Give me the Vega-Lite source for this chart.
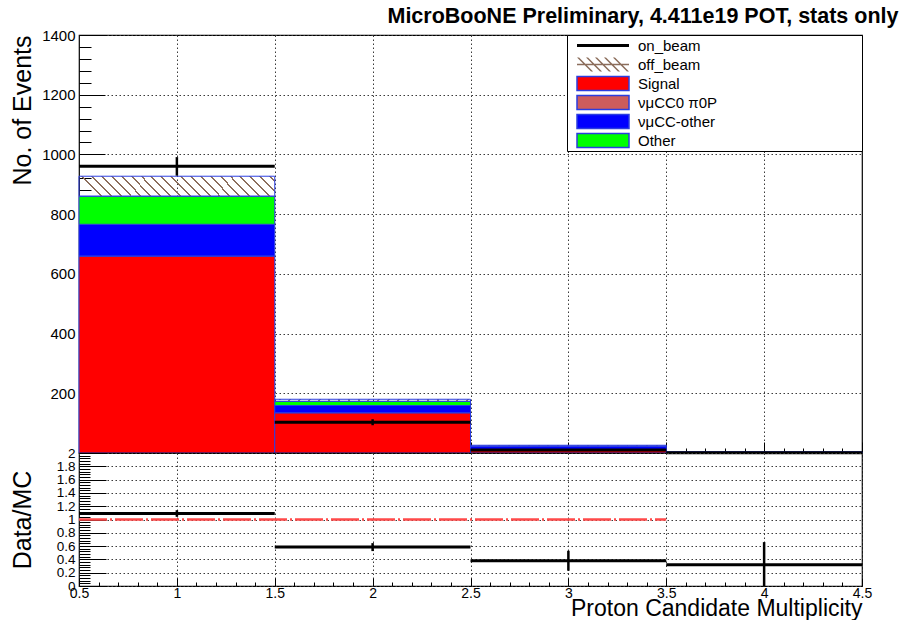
{
  "$schema": "https://vega.github.io/schema/vega-lite/v6.json",
  "background": "white",
  "padding": {"left": 9, "top": 4, "right": 0, "bottom": 0},
  "datasets": {
    "mc": [
      {"bin": 1, "lo": 0.5, "hi": 1.5, "comp": "Signal", "order": 1, "events": 660},
      {"bin": 1, "lo": 0.5, "hi": 1.5, "comp": "νμCC0 π0P", "order": 2, "events": 0},
      {"bin": 1, "lo": 0.5, "hi": 1.5, "comp": "νμCC-other", "order": 3, "events": 106},
      {"bin": 1, "lo": 0.5, "hi": 1.5, "comp": "Other", "order": 4, "events": 94},
      {"bin": 1, "lo": 0.5, "hi": 1.5, "comp": "off_beam", "order": 5, "events": 67},
      {"bin": 2, "lo": 1.5, "hi": 2.5, "comp": "Signal", "order": 1, "events": 135},
      {"bin": 2, "lo": 1.5, "hi": 2.5, "comp": "νμCC0 π0P", "order": 2, "events": 0},
      {"bin": 2, "lo": 1.5, "hi": 2.5, "comp": "νμCC-other", "order": 3, "events": 24},
      {"bin": 2, "lo": 1.5, "hi": 2.5, "comp": "Other", "order": 4, "events": 14},
      {"bin": 2, "lo": 1.5, "hi": 2.5, "comp": "off_beam", "order": 5, "events": 7},
      {"bin": 3, "lo": 2.5, "hi": 3.5, "comp": "Signal", "order": 1, "events": 11},
      {"bin": 3, "lo": 2.5, "hi": 3.5, "comp": "νμCC0 π0P", "order": 2, "events": 0},
      {"bin": 3, "lo": 2.5, "hi": 3.5, "comp": "νμCC-other", "order": 3, "events": 11},
      {"bin": 3, "lo": 2.5, "hi": 3.5, "comp": "Other", "order": 4, "events": 1},
      {"bin": 3, "lo": 2.5, "hi": 3.5, "comp": "off_beam", "order": 5, "events": 3},
      {"bin": 4, "lo": 3.5, "hi": 4.5, "comp": "Signal", "order": 1, "events": 1.5},
      {"bin": 4, "lo": 3.5, "hi": 4.5, "comp": "νμCC0 π0P", "order": 2, "events": 0},
      {"bin": 4, "lo": 3.5, "hi": 4.5, "comp": "νμCC-other", "order": 3, "events": 1},
      {"bin": 4, "lo": 3.5, "hi": 4.5, "comp": "Other", "order": 4, "events": 0.5},
      {"bin": 4, "lo": 3.5, "hi": 4.5, "comp": "off_beam", "order": 5, "events": 0}
    ],
    "onbeam": [
      {"bin": 1, "lo": 0.5, "hi": 1.5, "comp": "on_beam", "events": 960, "err": 31},
      {"bin": 2, "lo": 1.5, "hi": 2.5, "comp": "on_beam", "events": 103, "err": 10},
      {"bin": 3, "lo": 2.5, "hi": 3.5, "comp": "on_beam", "events": 10, "err": 3.2},
      {"bin": 4, "lo": 3.5, "hi": 4.5, "comp": "on_beam", "events": 1, "err": 1}
    ],
    "ratio": [
      {"bin": 1, "lo": 0.5, "hi": 1.5, "ratio": 1.09, "err": 0.05},
      {"bin": 2, "lo": 1.5, "hi": 2.5, "ratio": 0.585, "err": 0.06},
      {"bin": 3, "lo": 2.5, "hi": 3.5, "ratio": 0.38, "err": 0.15},
      {"bin": 4, "lo": 3.5, "hi": 4.5, "ratio": 0.32, "err": 0.34}
    ]
  },
  "vconcat": [
    {
      "width": 783,
      "height": 418,
      "title": {
        "text": "MicroBooNE Preliminary, 4.411e19 POT, stats only",
        "anchor": "end",
        "font": "Liberation Sans",
        "fontSize": 21.5,
        "fontWeight": "bold",
        "color": "black",
        "dx": 35,
        "offset": 1
      },
      "layer": [
        {
          "data": {"name": "mc"},
          "transform": [
            {"stack": "events", "groupby": ["bin"], "sort": [{"field": "order", "order": "ascending"}], "as": ["y0", "y1"]}
          ],
          "mark": {"type": "rect", "stroke": "#2b3de0", "strokeWidth": 1},
          "encoding": {
            "x": {
              "field": "lo", "type": "quantitative",
              "scale": {"domain": [0.5, 4.5], "nice": false, "zero": false},
              "axis": {"orient": "bottom", "values": [1, 1.5, 2, 2.5, 3, 3.5, 4], "labels": false, "ticks": false, "domain": false, "grid": true, "title": null}
            },
            "x2": {"field": "hi"},
            "y": {
              "field": "y1", "type": "quantitative",
              "scale": {"domain": [0, 1400], "nice": false, "zero": true},
              "axis": {
                "orient": "left",
                "values": [0, 200, 400, 600, 800, 1000, 1200, 1400],
                "labelExpr": "datum.value === 0 ? '' : format(datum.value, 'd')",
                "labelFlush": false,
                "labelOverlap": false,
                "ticks": false, "domain": false, "grid": true,
                "labelPadding": 4,
                "title": "No. of Events", "titleAnchor": "end", "titleFontSize": 25, "titleX": -44
              }
            },
            "y2": {"field": "y0"},
            "color": {
              "condition": {
                "test": "datum.comp === 'off_beam'",
                "value": {
                  "gradient": "linear", "x1": 0, "y1": 0.1, "x2": 1, "y2": 0,
                  "stops": [
                    {"offset": 0, "color": "rgba(0,0,0,0)"},
                    {"offset": 0.02, "color": "rgba(0,0,0,0)"}, {"offset": 0.02, "color": "#8c6e5c"}, {"offset": 0.03, "color": "#8c6e5c"}, {"offset": 0.03, "color": "rgba(0,0,0,0)"},
                    {"offset": 0.07, "color": "rgba(0,0,0,0)"}, {"offset": 0.07, "color": "#8c6e5c"}, {"offset": 0.08, "color": "#8c6e5c"}, {"offset": 0.08, "color": "rgba(0,0,0,0)"},
                    {"offset": 0.12, "color": "rgba(0,0,0,0)"}, {"offset": 0.12, "color": "#8c6e5c"}, {"offset": 0.13, "color": "#8c6e5c"}, {"offset": 0.13, "color": "rgba(0,0,0,0)"},
                    {"offset": 0.17, "color": "rgba(0,0,0,0)"}, {"offset": 0.17, "color": "#8c6e5c"}, {"offset": 0.18, "color": "#8c6e5c"}, {"offset": 0.18, "color": "rgba(0,0,0,0)"},
                    {"offset": 0.22, "color": "rgba(0,0,0,0)"}, {"offset": 0.22, "color": "#8c6e5c"}, {"offset": 0.23, "color": "#8c6e5c"}, {"offset": 0.23, "color": "rgba(0,0,0,0)"},
                    {"offset": 0.27, "color": "rgba(0,0,0,0)"}, {"offset": 0.27, "color": "#8c6e5c"}, {"offset": 0.28, "color": "#8c6e5c"}, {"offset": 0.28, "color": "rgba(0,0,0,0)"},
                    {"offset": 0.32, "color": "rgba(0,0,0,0)"}, {"offset": 0.32, "color": "#8c6e5c"}, {"offset": 0.33, "color": "#8c6e5c"}, {"offset": 0.33, "color": "rgba(0,0,0,0)"},
                    {"offset": 0.37, "color": "rgba(0,0,0,0)"}, {"offset": 0.37, "color": "#8c6e5c"}, {"offset": 0.38, "color": "#8c6e5c"}, {"offset": 0.38, "color": "rgba(0,0,0,0)"},
                    {"offset": 0.42, "color": "rgba(0,0,0,0)"}, {"offset": 0.42, "color": "#8c6e5c"}, {"offset": 0.43, "color": "#8c6e5c"}, {"offset": 0.43, "color": "rgba(0,0,0,0)"},
                    {"offset": 0.47, "color": "rgba(0,0,0,0)"}, {"offset": 0.47, "color": "#8c6e5c"}, {"offset": 0.48, "color": "#8c6e5c"}, {"offset": 0.48, "color": "rgba(0,0,0,0)"},
                    {"offset": 0.52, "color": "rgba(0,0,0,0)"}, {"offset": 0.52, "color": "#8c6e5c"}, {"offset": 0.53, "color": "#8c6e5c"}, {"offset": 0.53, "color": "rgba(0,0,0,0)"},
                    {"offset": 0.57, "color": "rgba(0,0,0,0)"}, {"offset": 0.57, "color": "#8c6e5c"}, {"offset": 0.58, "color": "#8c6e5c"}, {"offset": 0.58, "color": "rgba(0,0,0,0)"},
                    {"offset": 0.62, "color": "rgba(0,0,0,0)"}, {"offset": 0.62, "color": "#8c6e5c"}, {"offset": 0.63, "color": "#8c6e5c"}, {"offset": 0.63, "color": "rgba(0,0,0,0)"},
                    {"offset": 0.67, "color": "rgba(0,0,0,0)"}, {"offset": 0.67, "color": "#8c6e5c"}, {"offset": 0.68, "color": "#8c6e5c"}, {"offset": 0.68, "color": "rgba(0,0,0,0)"},
                    {"offset": 0.72, "color": "rgba(0,0,0,0)"}, {"offset": 0.72, "color": "#8c6e5c"}, {"offset": 0.73, "color": "#8c6e5c"}, {"offset": 0.73, "color": "rgba(0,0,0,0)"},
                    {"offset": 0.77, "color": "rgba(0,0,0,0)"}, {"offset": 0.77, "color": "#8c6e5c"}, {"offset": 0.78, "color": "#8c6e5c"}, {"offset": 0.78, "color": "rgba(0,0,0,0)"},
                    {"offset": 0.82, "color": "rgba(0,0,0,0)"}, {"offset": 0.82, "color": "#8c6e5c"}, {"offset": 0.83, "color": "#8c6e5c"}, {"offset": 0.83, "color": "rgba(0,0,0,0)"},
                    {"offset": 0.87, "color": "rgba(0,0,0,0)"}, {"offset": 0.87, "color": "#8c6e5c"}, {"offset": 0.88, "color": "#8c6e5c"}, {"offset": 0.88, "color": "rgba(0,0,0,0)"},
                    {"offset": 0.92, "color": "rgba(0,0,0,0)"}, {"offset": 0.92, "color": "#8c6e5c"}, {"offset": 0.93, "color": "#8c6e5c"}, {"offset": 0.93, "color": "rgba(0,0,0,0)"},
                    {"offset": 0.97, "color": "rgba(0,0,0,0)"}, {"offset": 0.97, "color": "#8c6e5c"}, {"offset": 0.98, "color": "#8c6e5c"}, {"offset": 0.98, "color": "rgba(0,0,0,0)"},
                    {"offset": 1, "color": "rgba(0,0,0,0)"}
                  ]
                }
              },
              "field": "comp",
              "type": "nominal",
              "scale": {
                "domain": ["on_beam", "off_beam", "Signal", "νμCC0 π0P", "νμCC-other", "Other"],
                "range": ["black", "#8c6e5c", "#ff0000", "#cd5c5c", "#0000ff", "#00ff00"]
              },
              "legend": {
                "orient": "top-right",
                "offset": 0,
                "title": "\u00a0",
                "titleOrient": "right",
                "titleFontSize": 1,
                "titlePadding": 144,
                "padding": 1,
                "strokeColor": "black",
                "fillColor": "white",
                "symbolSize": 2704,
                "symbolOffset": 8,
                "symbolStrokeWidth": 1.5,
                "symbolOpacity": 1,
                "clipHeight": 19,
                "rowPadding": 0,
                "labelFont": "Liberation Sans",
                "labelFontSize": 15,
                "labelColor": "black",
                "labelOffset": 8,
                "labelLimit": 0
              }
            }
          }
        },
        {
          "data": {"name": "mc"},
          "mark": {"type": "point", "filled": true, "opacity": 0},
          "encoding": {
            "x": {"field": "lo", "type": "quantitative", "axis": null},
            "y": {"field": "events", "type": "quantitative", "axis": null},
            "color": {"field": "comp", "type": "nominal"},
            "shape": {
              "field": "comp", "type": "nominal",
              "scale": {
                "domain": ["on_beam", "off_beam", "Signal", "νμCC0 π0P", "νμCC-other", "Other"],
                "range": [
                  "M-1,-0.06H1V0.06H-1Z",
                  "M-1,-0.27L-0.92,-0.27L-0.38,0.27L-0.46,0.27Z M-0.655,-0.27L-0.575,-0.27L-0.035,0.27L-0.115,0.27Z M-0.31,-0.27L-0.23,-0.27L0.31,0.27L0.23,0.27Z M0.035,-0.27L0.115,-0.27L0.655,0.27L0.575,0.27Z M0.38,-0.27L0.46,-0.27L1,0.27L0.92,0.27Z M-1,-0.03H1V0.03H-1Z",
                  "M-1,-0.27H1V0.27H-1Z",
                  "M-1,-0.27H1V0.27H-1Z",
                  "M-1,-0.27H1V0.27H-1Z",
                  "M-1,-0.27H1V0.27H-1Z"
                ]
              }
            },
            "stroke": {
              "field": "comp", "type": "nominal",
              "scale": {
                "domain": ["on_beam", "off_beam", "Signal", "νμCC0 π0P", "νμCC-other", "Other"],
                "range": ["transparent", "transparent", "#2b3de0", "#2b3de0", "#2b3de0", "#2b3de0"]
              }
            }
          }
        },
        {
          "data": {"name": "onbeam"},
          "mark": {"type": "rule", "strokeWidth": 3, "color": "black"},
          "encoding": {
            "x": {
              "field": "lo", "type": "quantitative",
              "axis": {
                "orient": "top", "offset": -418,
                "values": [0.5, 0.6, 0.7, 0.8, 0.9, 1, 1.1, 1.2, 1.3, 1.4, 1.5, 1.6, 1.7, 1.8, 1.9, 2, 2.1, 2.2, 2.3, 2.4, 2.5, 2.6, 2.7, 2.8, 2.9, 3, 3.1, 3.2, 3.3, 3.4, 3.5, 3.6, 3.7, 3.8, 3.9, 4, 4.1, 4.2, 4.3, 4.4, 4.5],
                "labels": false, "domain": false, "grid": false, "title": null,
                "tickSize": {"condition": {"test": "abs(datum.value * 2 - round(datum.value * 2)) < 0.001", "value": 11}, "value": 5}
              }
            },
            "x2": {"field": "hi"},
            "y": {
              "field": "events", "type": "quantitative",
              "axis": {
                "orient": "right", "offset": -783,
                "values": [0, 40, 80, 120, 160, 200, 240, 280, 320, 360, 400, 440, 480, 520, 560, 600, 640, 680, 720, 760, 800, 840, 880, 920, 960, 1000, 1040, 1080, 1120, 1160, 1200, 1240, 1280, 1320, 1360, 1400],
                "labels": false, "domain": false, "grid": false, "title": null,
                "tickSize": {"condition": {"test": "datum.value % 200 === 0", "value": 26}, "value": 12}
              }
            }
          }
        },
        {
          "data": {"name": "onbeam"},
          "mark": {"type": "errorbar", "ticks": false, "color": "black", "thickness": 2.5},
          "encoding": {
            "x": {"field": "bin", "type": "quantitative", "axis": null},
            "y": {"field": "events", "type": "quantitative", "axis": null},
            "yError": {"field": "err"}
          }
        }
      ],
      "resolve": {"axis": {"x": "independent", "y": "independent"}}
    },
    {
      "width": 783,
      "height": 133,
      "layer": [
        {
          "data": {"name": "ratio"},
          "mark": {"type": "rule", "strokeWidth": 3, "color": "black"},
          "encoding": {
            "x": {
              "field": "lo", "type": "quantitative",
              "scale": {"domain": [0.5, 4.5], "nice": false, "zero": false},
              "axis": {
                "orient": "bottom",
                "values": [0.5, 1, 1.5, 2, 2.5, 3, 3.5, 4, 4.5],
                "labelExpr": "format(datum.value, '~g')",
                "labelFlush": false,
                "labelOverlap": false,
                "ticks": false, "domain": false, "grid": true,
                "labelPadding": 0,
                "labelFontSize": 14,
                "title": "Proton Candidate Multiplicity", "titleAnchor": "end", "titleFontSize": 23, "titlePadding": -3
              }
            },
            "x2": {"field": "hi"},
            "y": {
              "field": "ratio", "type": "quantitative",
              "scale": {"domain": [0, 2], "nice": false, "zero": true},
              "axis": {
                "orient": "left",
                "values": [0, 0.2, 0.4, 0.6, 0.8, 1, 1.2, 1.4, 1.6, 1.8, 2],
                "labelExpr": "format(datum.value, '~g')",
                "labelFlush": false,
                "labelOverlap": false,
                "labelFontSize": 13.5,
                "ticks": false, "domain": false, "grid": true,
                "labelPadding": 4,
                "title": "Data/MC", "titleAnchor": "middle", "titleFontSize": 25, "titleX": -44
              }
            }
          }
        },
        {
          "data": {"values": [{"unity": 1, "from": 0.5, "to": 3.5}]},
          "mark": {"type": "rule", "color": "#ff4a4a", "strokeWidth": 2.5, "strokeDash": [28, 3, 2, 3]},
          "encoding": {
            "x": {
              "field": "from", "type": "quantitative",
              "axis": {
                "orient": "top", "offset": -133,
                "values": [0.5, 0.6, 0.7, 0.8, 0.9, 1, 1.1, 1.2, 1.3, 1.4, 1.5, 1.6, 1.7, 1.8, 1.9, 2, 2.1, 2.2, 2.3, 2.4, 2.5, 2.6, 2.7, 2.8, 2.9, 3, 3.1, 3.2, 3.3, 3.4, 3.5, 3.6, 3.7, 3.8, 3.9, 4, 4.1, 4.2, 4.3, 4.4, 4.5],
                "labels": false, "domain": false, "grid": false, "title": null,
                "tickSize": {"condition": {"test": "abs(datum.value * 2 - round(datum.value * 2)) < 0.001", "value": 8}, "value": 4}
              }
            },
            "x2": {"field": "to"},
            "y": {
              "field": "unity", "type": "quantitative",
              "axis": {
                "orient": "right", "offset": -783,
                "values": [0, 0.04, 0.08, 0.12, 0.16, 0.2, 0.24, 0.28, 0.32, 0.36, 0.4, 0.44, 0.48, 0.52, 0.56, 0.6, 0.64, 0.68, 0.72, 0.76, 0.8, 0.84, 0.88, 0.92, 0.96, 1, 1.04, 1.08, 1.12, 1.16, 1.2, 1.24, 1.28, 1.32, 1.36, 1.4, 1.44, 1.48, 1.52, 1.56, 1.6, 1.64, 1.68, 1.72, 1.76, 1.8, 1.84, 1.88, 1.92, 1.96, 2],
                "labels": false, "domain": false, "grid": false, "title": null,
                "tickSize": {"condition": {"test": "abs(datum.value * 5 - round(datum.value * 5)) < 0.001", "value": 27}, "value": 11}
              }
            }
          }
        },
        {
          "data": {"name": "ratio"},
          "mark": {"type": "errorbar", "ticks": false, "color": "black", "thickness": 2.5, "clip": true},
          "encoding": {
            "x": {"field": "bin", "type": "quantitative", "axis": null},
            "y": {"field": "ratio", "type": "quantitative", "axis": null},
            "yError": {"field": "err"}
          }
        }
      ],
      "resolve": {"axis": {"x": "independent", "y": "independent"}}
    }
  ],
  "spacing": 0,
  "bounds": "flush",
  "resolve": {"legend": {"color": "independent", "shape": "independent", "stroke": "independent"}},
  "config": {
    "font": "Liberation Sans",
    "view": {"stroke": "black", "strokeWidth": 1.2},
    "axis": {
      "labelFont": "Liberation Sans",
      "titleFont": "Liberation Sans",
      "labelColor": "black",
      "titleColor": "black",
      "labelFontSize": 15,
      "titleFontWeight": "normal",
      "gridColor": "#3a3a3a",
      "gridDash": [1.5, 2.5],
      "gridWidth": 1,
      "gridOpacity": 1,
      "tickColor": "black",
      "tickWidth": 1
    }
  }
}
